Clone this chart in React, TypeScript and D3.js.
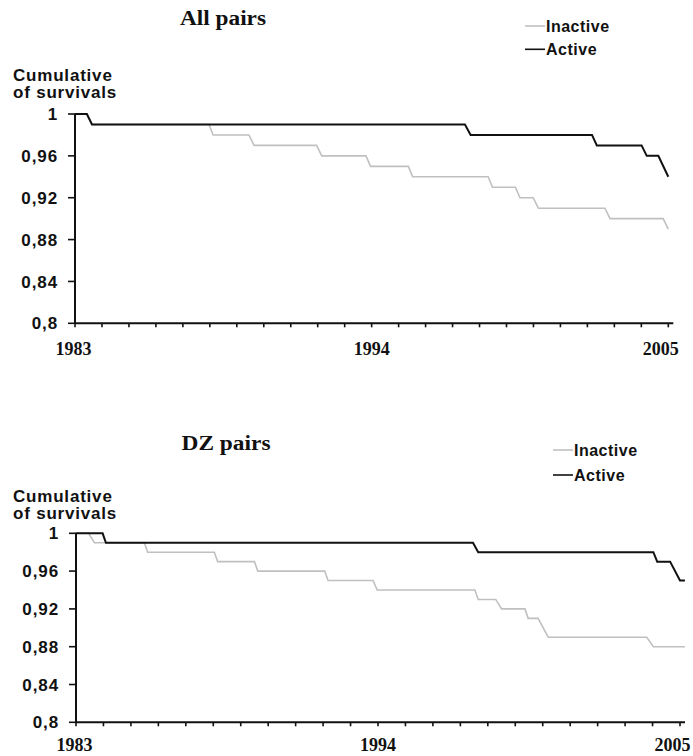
import React from "react";
import * as d3 from "d3";

// Cumulative survival curves, Kaplan–Meier style, read as [year, proportion surviving]
const allInactive: [number, number][] = [
  [1983, 1], [1983.44, 1], [1983.63, 0.99], [1987.97, 0.99], [1988.12, 0.98],
  [1989.45, 0.98], [1989.64, 0.97], [1991.96, 0.97], [1992.15, 0.96],
  [1993.79, 0.96], [1993.96, 0.95], [1995.36, 0.95], [1995.52, 0.94],
  [1998.32, 0.94], [1998.48, 0.93], [1999.33, 0.93], [1999.5, 0.92],
  [1999.99, 0.92], [2000.18, 0.91], [2002.65, 0.91], [2002.84, 0.9],
  [2004.81, 0.9], [2005, 0.89],
];
const allActive: [number, number][] = [
  [1983, 1], [1983.44, 1], [1983.63, 0.99], [1997.46, 0.99], [1997.67, 0.98],
  [2002.17, 0.98], [2002.35, 0.97], [2004.01, 0.97], [2004.2, 0.96],
  [2004.63, 0.96], [2005, 0.94],
];
const dzInactive: [number, number][] = [
  [1983, 1], [1983.46, 1], [1983.67, 0.99], [1985.49, 0.99], [1985.61, 0.98],
  [1988.04, 0.98], [1988.16, 0.97], [1989.5, 0.97], [1989.62, 0.96],
  [1992.06, 0.96], [1992.18, 0.95], [1993.82, 0.95], [1993.97, 0.94],
  [1997.53, 0.94], [1997.65, 0.93], [1998.29, 0.93], [1998.5, 0.92],
  [1999.35, 0.92], [1999.47, 0.91], [1999.83, 0.91], [2000.2, 0.89],
  [2003.79, 0.89], [2004.03, 0.88], [2005.18, 0.88],
];
const dzActive: [number, number][] = [
  [1983, 1], [1983.97, 1], [1984.09, 0.99], [1997.46, 0.99], [1997.65, 0.98],
  [2004.03, 0.98], [2004.17, 0.97], [2004.64, 0.97], [2005, 0.95],
  [2005.18, 0.95],
];

const yTickValues = [0.8, 0.84, 0.88, 0.92, 0.96, 1];
const yearLabels = [1983, 1994, 2005];
const seriesNames = ["Inactive", "Active"];
const yTitleLines = ["Cumulative", "of survivals"];

const commaFmt = d3.formatLocale({
  decimal: ",",
  thousands: ".",
  grouping: [3],
  currency: ["", ""],
}).format("~g");

const SANS = "'Liberation Sans', Arial, sans-serif";
const SERIF = "'Liberation Serif', 'Times New Roman', serif";
const INK = "#111";
const GREY = "#c0c0c0";

type PanelProps = {
  title: string;
  titleWidth: number;
  inactive: [number, number][];
  active: [number, number][];
  x0: number;
  x1: number;
  yTop: number;
  yBottom: number;
  titleX: number;
  titleY: number;
  yTitleX: number;
  yTitleY: number;
  legendX: number;
  legendY: number;
  legendGap: number;
  xLabelY: number;
};

function Panel(p: PanelProps) {
  const x = d3.scaleLinear().domain([1983, 2005]).range([p.x0, p.x1]);
  const y = d3.scaleLinear().domain([0.8, 1]).range([p.yBottom, p.yTop]);
  const line = d3
    .line<[number, number]>()
    .x((d) => x(d[0]))
    .y((d) => y(d[1]));
  const yearTicks = d3.range(1983, 2006);
  const labelShift = (yr: number) => (yr === 2005 ? -7.5 : yr === 1983 ? -1.5 : 0);
  return (
    <g>
      <text
        x={p.titleX - p.titleWidth / 2}
        y={p.titleY}
        textLength={p.titleWidth}
        lengthAdjust="spacingAndGlyphs"
        fontFamily={SERIF}
        fontWeight="bold"
        fontSize={20}
        fill={INK}
      >
        {p.title}
      </text>

      {/* legend */}
      {seriesNames.map((name, i) => (
        <g key={name}>
          <line
            x1={p.legendX}
            x2={p.legendX + 20}
            y1={p.legendY + i * p.legendGap}
            y2={p.legendY + i * p.legendGap}
            stroke={i === 0 ? GREY : INK}
            strokeWidth={1.6}
          />
          <text
            x={p.legendX + 21}
            y={p.legendY + i * p.legendGap + 5.8}
            fontFamily={SANS}
            fontWeight="bold"
            fontSize={16}
            letterSpacing={0.5}
            fill={INK}
          >
            {name}
          </text>
        </g>
      ))}

      {/* y-axis title */}
      {yTitleLines.map((t, i) => (
        <text
          key={t}
          x={p.yTitleX}
          y={p.yTitleY + i * 17.6}
          fontFamily={SANS}
          fontWeight="bold"
          fontSize={17}
          letterSpacing={0.8}
          fill={INK}
        >
          {t}
        </text>
      ))}

      {/* y axis */}
      <line x1={p.x0} x2={p.x0} y1={y(1)} y2={y(0.8)} stroke={INK} strokeWidth={2} />
      {yTickValues.map((v) => (
        <g key={v}>
          <line x1={p.x0 - 7} x2={p.x0} y1={y(v)} y2={y(v)} stroke={INK} strokeWidth={1.6} />
          <text
            x={p.x0 - 17}
            y={y(v)}
            dy="0.36em"
            textAnchor="end"
            fontFamily={SANS}
            fontWeight="bold"
            fontSize={17}
            letterSpacing={0.9}
            fill={INK}
          >
            {commaFmt(v)}
          </text>
        </g>
      ))}

      {/* x axis */}
      <line x1={p.x0} x2={p.x1 + 5} y1={y(0.8)} y2={y(0.8)} stroke={INK} strokeWidth={2} />
      {yearTicks.map((yr) => (
        <line
          key={yr}
          x1={x(yr)}
          x2={x(yr)}
          y1={y(0.8)}
          y2={y(0.8) + 4}
          stroke={INK}
          strokeWidth={1.6}
        />
      ))}
      {yearLabels.map((yr) => (
        <text
          key={yr}
          x={x(yr) + labelShift(yr)}
          y={p.xLabelY}
          textAnchor="middle"
          fontFamily={SERIF}
          fontWeight="bold"
          fontSize={18}
          fill={INK}
        >
          {yr}
        </text>
      ))}

      {/* survival curves */}
      <path d={line(p.inactive) ?? ""} fill="none" stroke={GREY} strokeWidth={1.6} />
      <path d={line(p.active) ?? ""} fill="none" stroke={INK} strokeWidth={2} />
    </g>
  );
}

export default function App() {
  return (
    <svg
      width={693}
      height={756}
      style={{ position: "absolute", left: 0, top: 0, background: "#fff" }}
    >
      <rect width={693} height={756} fill="#fff" />
      <Panel
        title="All pairs"
        titleWidth={86}
        inactive={allInactive}
        active={allActive}
        x0={75}
        x1={668.3}
        yTop={114}
        yBottom={323.3}
        titleX={223}
        titleY={25}
        yTitleX={13}
        yTitleY={80.7}
        legendX={525}
        legendY={26}
        legendGap={23.3}
        xLabelY={355}
      />
      <Panel
        title="DZ pairs"
        titleWidth={89}
        inactive={dzInactive}
        active={dzActive}
        x0={76}
        x1={680}
        yTop={533.3}
        yBottom={722.3}
        titleX={226}
        titleY={450}
        yTitleX={13}
        yTitleY={501.7}
        legendX={553}
        legendY={450}
        legendGap={25}
        xLabelY={751}
      />
    </svg>
  );
}
